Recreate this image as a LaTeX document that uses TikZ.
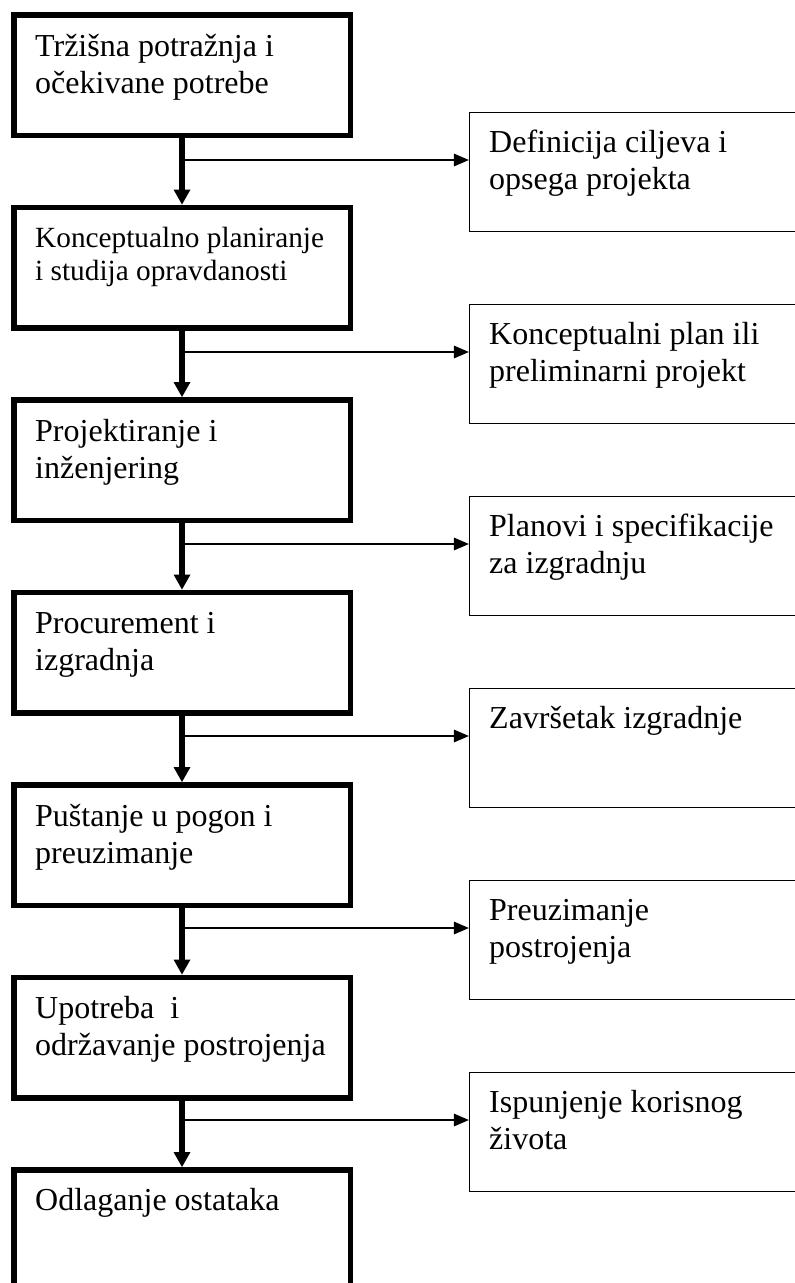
\documentclass[tikz,border=0pt]{standalone}
\usepackage{fontspec}
\setmainfont{Liberation Serif}
\usetikzlibrary{arrows.meta}
\begin{document}
\begin{tikzpicture}[x=1pt,y=-1pt,
  stage/.style={draw, line width=5.5pt, minimum width=336.5pt, minimum height=120.5pt, inner sep=0pt},
  result/.style={draw, line width=1.3pt, minimum width=340pt, minimum height=118.7pt, inner sep=0pt},
  txt/.style={anchor=north west, inner sep=0pt, align=left, font=\fontsize{32}{37}\selectfont},
  smalltxt/.style={txt, font=\fontsize{29.3}{33}\selectfont},
  flow/.style={line width=5.5pt, -{Triangle[width=17pt,length=15pt,line width=0pt]}},
  branch/.style={line width=1.3pt, -{Triangle[width=13pt,length=15pt,line width=0pt]}}]
\path[use as bounding box, clip] (0,0) rectangle (795,1283);

% left column (stages)
\node[stage] (L1) at (182,75) {};
\node[stage] (L2) at (182,267.5) {};
\node[stage] (L3) at (182,460) {};
\node[stage] (L4) at (182,652.5) {};
\node[stage] (L5) at (182,845) {};
\node[stage] (L6) at (182,1037.5) {};
\node[stage] (L7) at (182,1230) {};

\node[txt] (t1) at (35,30.1) {\strut Tržišna potražnja i\\očekivane potrebe};
\node[smalltxt] (t2) at (35,223.9) {\strut Konceptualno planiranje\\i studija opravdanosti};
\node[txt] (t3) at (35,415.1) {\strut Projektiranje i\\inženjering};
\node[txt] (t4) at (35,607.6) {\strut Procurement i\\izgradnja};
\node[txt] (t5) at (35,800.1) {\strut Puštanje u pogon i\\preuzimanje};
\node[txt] (t6) at (35,992.6) {\strut Upotreba\ \ i\\održavanje postrojenja};
\node[txt] (t7) at (35,1184.1) {\strut Odlaganje ostataka};

% right column (results)
\node[result] (R1) at (639.5,172) {};
\node[result] (R2) at (639.5,364) {};
\node[result] (R3) at (639.5,556) {};
\node[result] (R4) at (639.5,748) {};
\node[result] (R5) at (639.5,940) {};
\node[result] (R6) at (639.5,1132) {};

\node[txt] (s1) at (489,126.1) {\strut Definicija ciljeva i\\opsega projekta};
\node[txt] (s2) at (489,318.1) {\strut Konceptualni plan ili\\preliminarni projekt};
\node[txt] (s3) at (489,510.1) {\strut Planovi i specifikacije\\za izgradnju};
\node[txt] (s4) at (489,702.1) {\strut Završetak izgradnje};
\node[txt] (s5) at (489,894.1) {\strut Preuzimanje\\postrojenja};
\node[txt] (s6) at (489,1086.1) {\strut Ispunjenje korisnog\\života};

% vertical flow
\draw[flow] (L1.south) -- (L2.north);
\draw[flow] (L2.south) -- (L3.north);
\draw[flow] (L3.south) -- (L4.north);
\draw[flow] (L4.south) -- (L5.north);
\draw[flow] (L5.south) -- (L6.north);
\draw[flow] (L6.south) -- (L7.north);

% branches
\coordinate (j1) at (182,160);
\coordinate (j2) at (182,352);
\coordinate (j3) at (182,544);
\coordinate (j4) at (182,736);
\coordinate (j5) at (182,928);
\coordinate (j6) at (182,1120);
\draw[branch] (j1) -- (j1 -| R1.west);
\draw[branch] (j2) -- (j2 -| R2.west);
\draw[branch] (j3) -- (j3 -| R3.west);
\draw[branch] (j4) -- (j4 -| R4.west);
\draw[branch] (j5) -- (j5 -| R5.west);
\draw[branch] (j6) -- (j6 -| R6.west);
\end{tikzpicture}
\end{document}
